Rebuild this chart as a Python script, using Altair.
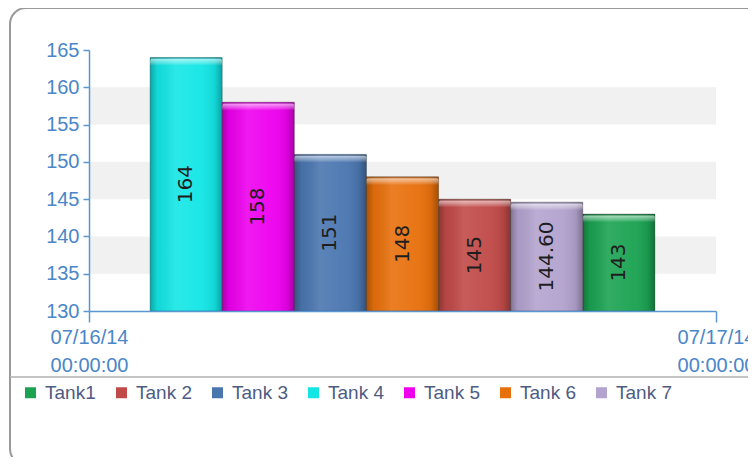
import altair as alt
import pandas as pd

# ---- data ----
tanks = ["Tank1", "Tank 2", "Tank 3", "Tank 4", "Tank 5", "Tank 6", "Tank 7"]
values = [143, 145, 151, 164, 158, 148, 144.60]
colors = ["#1ba352", "#c04a48", "#4a76b0", "#14e6e6", "#ee00ee", "#e8700c", "#b3a3cf"]
y_ticks = [130, 135, 140, 145, 150, 155, 160, 165]
band_starts = [135, 145, 155]
time_ticks = ["2014-07-16", "2014-07-17"]

W, H = 627, 261
Y_MIN, Y_MAX = y_ticks[0], y_ticks[-1]

df = pd.DataFrame({"tank": tanks, "value": values})
bands = pd.DataFrame({"start": band_starts})
bands["end"] = bands["start"] + 5
times = pd.DataFrame({"t": [pd.Timestamp(t, tz="UTC").value // 10**6 for t in time_ticks]})
one = pd.DataFrame({"a": [0]})

AXIS_BLUE = "#5b96d2"
LABEL_BLUE = "#4a86c8"

yscale = alt.Scale(domain=[Y_MIN, Y_MAX], nice=False, zero=False)
yaxis = alt.Axis(
    values=y_ticks, title=None, grid=False, domainColor=AXIS_BLUE, tickColor=AXIS_BLUE,
    labelColor=LABEL_BLUE, labelFontSize=20, labelFont="Liberation Sans", tickSize=6,
    labelPadding=4, domainWidth=1.5, tickWidth=1.5, zindex=1, labelOverlap=False,
    labelBound=False, labelFlush=False)
xband = alt.X("tank:N", sort=alt.EncodingSortField(field="value", order="descending"),
              scale=alt.Scale(paddingInner=0, paddingOuter=0.847), axis=None)

frame = alt.Chart(one).mark_rect(fill="transparent", stroke="#9a9a9a", strokeWidth=2, cornerRadius=16).encode(
    x=alt.value(-79), x2=alt.value(720), y=alt.value(-42), y2=alt.value(415)
)
sep = alt.Chart(one).mark_rule(color="#b0b0b0", strokeWidth=1.5).encode(
    x=alt.value(-79), x2=alt.value(720), y=alt.value(327)
)

band_layer = alt.Chart(bands).mark_rect(color="#f1f1f1").encode(
    x=alt.value(0), x2=alt.value(W),
    y=alt.Y("start:Q", scale=yscale, axis=yaxis),
    y2="end:Q",
)

bars = alt.Chart(df).mark_bar(stroke="rgba(0,0,0,0.25)", strokeWidth=1).encode(
    x=xband,
    y=alt.Y("value:Q", scale=yscale, axis=yaxis),
    y2=alt.datum(Y_MIN),
    color=alt.Color("tank:N", scale=alt.Scale(domain=tanks, range=colors), legend=alt.Legend(
        orient="none", legendX=-68, legendY=333, direction="horizontal", title=None,
        symbolType="square", symbolSize=121, symbolStrokeWidth=0, labelFontSize=19,
        labelFont="Liberation Sans", labelColor="#4e5b82", columnPadding=16, labelOffset=5,
        padding=0)),
)

shade = alt.LinearGradient(
    gradient="linear", x1=0, x2=1, y1=0, y2=0,
    stops=[
        alt.GradientStop(color="rgba(0,0,0,0.28)", offset=0),
        alt.GradientStop(color="rgba(0,0,0,0.06)", offset=0.1),
        alt.GradientStop(color="rgba(255,255,255,0.10)", offset=0.35),
        alt.GradientStop(color="rgba(255,255,255,0.04)", offset=0.7),
        alt.GradientStop(color="rgba(0,0,0,0.08)", offset=0.9),
        alt.GradientStop(color="rgba(0,0,0,0.3)", offset=1),
    ],
)
overlay = alt.Chart(df).mark_bar(color=shade).encode(
    x=xband, y=alt.Y("value:Q", scale=yscale, axis=yaxis), y2=alt.datum(Y_MIN)
)

capgrad = alt.LinearGradient(
    gradient="linear", x1=0, x2=0, y1=0, y2=1,
    stops=[
        alt.GradientStop(color="rgba(0,0,0,0.25)", offset=0),
        alt.GradientStop(color="rgba(255,255,255,0.55)", offset=0.25),
        alt.GradientStop(color="rgba(255,255,255,0.25)", offset=0.7),
        alt.GradientStop(color="rgba(255,255,255,0)", offset=1),
    ],
)
cap = alt.Chart(df).transform_calculate(cap_low="datum.value - 1.1").mark_bar(
    color=capgrad, cornerRadiusTopLeft=4, cornerRadiusTopRight=4
).encode(x=xband, y=alt.Y("value:Q", scale=yscale, axis=yaxis), y2="cap_low:Q")

labels = alt.Chart(df).transform_calculate(
    mid=f"({Y_MIN} + datum.value) / 2",
    lab="datum.value % 1 === 0 ? format(datum.value, 'd') : format(datum.value, '.2f')",
).mark_text(angle=270, font="DejaVu Sans", fontSize=20, color="#1e1e1e", align="center",
            baseline="middle").encode(
    x=xband, y=alt.Y("mid:Q", scale=yscale, axis=yaxis), text="lab:N"
)

inner = alt.layer(frame, sep, band_layer, bars, overlay, cap, labels)

time_axis = alt.Chart(times).mark_point(opacity=0).encode(
    x=alt.X("t:T", scale=alt.Scale(type="utc", nice=False), axis=alt.Axis(
        orient="bottom", title=None, values=list(times["t"]), grid=False, zindex=1,
        domainColor=AXIS_BLUE, tickColor=AXIS_BLUE, domainWidth=1.5, tickWidth=1.5, tickSize=11,
        labelColor=LABEL_BLUE, labelFontSize=20, labelFont="Liberation Sans",
        labelAlign="center", labelLineHeight=28, labelPadding=5, labelOverlap=False,
        labelFlush=False, labelBound=False,
        labelExpr="[utcFormat(datum.value, '%m/%d/%y'), utcFormat(datum.value, '%H:%M:%S')]")),
)

chart = alt.layer(inner, time_axis).resolve_scale(x="independent").properties(
    width=W, height=H,
    autosize=alt.AutoSizeParams(type="none"),
    padding={"left": 81, "top": 42, "right": 32, "bottom": 146},
    background="white",
).configure_view(stroke=None)

chart.save("out.html", embed_options={"renderer": "svg", "actions": False})
